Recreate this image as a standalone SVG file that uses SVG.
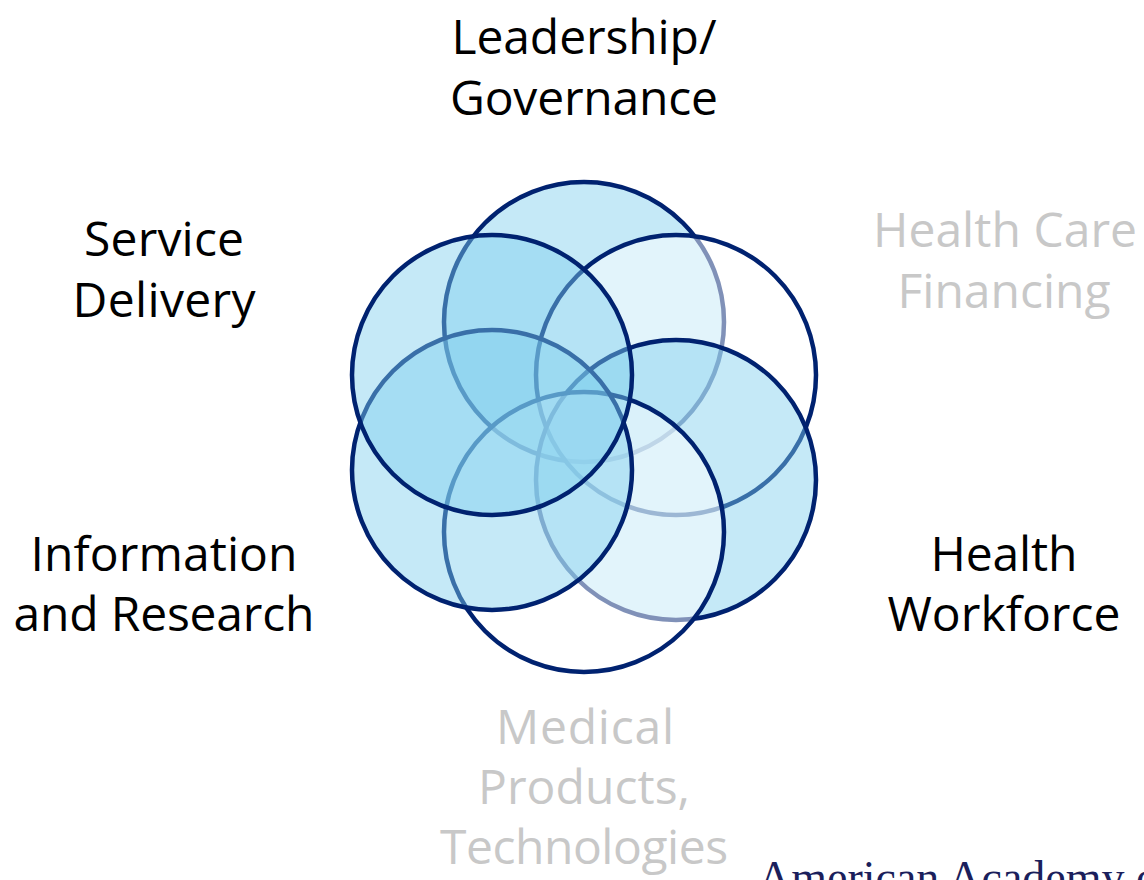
<svg xmlns="http://www.w3.org/2000/svg" width="1144" height="880" viewBox="0 0 1144 880">
  <style>
    .ring { stroke: #002270; stroke-width: 4.5; }
    .blue { fill: #7eceed; fill-opacity: 0.45; }
    .fade { fill: #ffffff; fill-opacity: 0.5; }
    .lbl { font-family: "Open Sans", "Noto Sans", "Liberation Sans", sans-serif; font-size: 48px; text-anchor: middle; }
    .dark { fill: #000000; }
    .grey { fill: #c8c8c8; }
    .credit { font-family: "Liberation Serif", "Times New Roman", serif; font-size: 46px; fill: #1b1f5c; }
  </style>
  <rect width="1144" height="880" fill="#ffffff"/>
  <g id="connectors"/>
  <g id="leadership-governance">
    <circle class="ring blue" cx="584" cy="322" r="140"/>
    <text class="lbl dark" x="584" y="54" textLength="265">Leadership/</text>
    <text class="lbl dark" x="584" y="115" textLength="268">Governance</text>
  </g>
  <g id="health-care-financing">
    <circle class="ring fade" cx="676" cy="375" r="140"/>
    <text class="lbl grey" x="1005" y="247" textLength="264">Health Care</text>
    <text class="lbl grey" x="1004" y="308" textLength="213">Financing</text>
  </g>
  <g id="health-workforce">
    <circle class="ring blue" cx="676" cy="480" r="140"/>
    <text class="lbl dark" x="1004" y="571" textLength="147">Health</text>
    <text class="lbl dark" x="1004" y="631" textLength="233">Workforce</text>
  </g>
  <g id="medical-products-technologies">
    <circle class="ring fade" cx="584" cy="532" r="140"/>
    <text class="lbl grey" x="585" y="744" textLength="178">Medical</text>
    <text class="lbl grey" x="584" y="804" textLength="212">Products,</text>
    <text class="lbl grey" x="584" y="864" textLength="288">Technologies</text>
  </g>
  <g id="information-research">
    <circle class="ring blue" cx="492" cy="470" r="140"/>
    <text class="lbl dark" x="164" y="571" textLength="267">Information</text>
    <text class="lbl dark" x="164" y="631" textLength="301">and Research</text>
  </g>
  <g id="service-delivery">
    <circle class="ring blue" cx="492" cy="375" r="140"/>
    <text class="lbl dark" x="164" y="256" textLength="160">Service</text>
    <text class="lbl dark" x="164" y="317" textLength="183">Delivery</text>
  </g>
  <text class="credit" x="758" y="893">American Academy of</text>
</svg>
